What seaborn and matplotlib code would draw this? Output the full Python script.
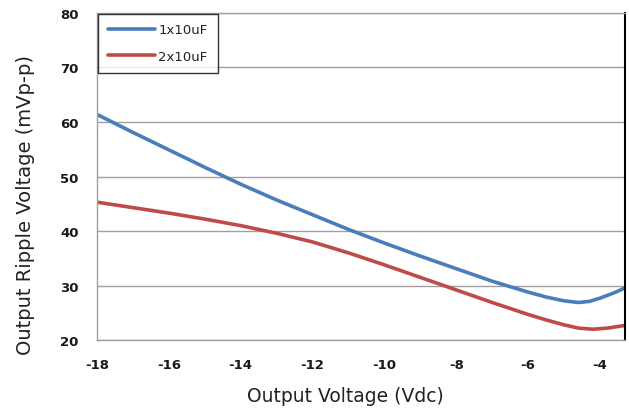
import matplotlib
matplotlib.use("Agg")
import matplotlib.pyplot as plt
import seaborn as sns
import pandas as pd

x_1x = [-18, -17, -16, -15, -14, -13, -12, -11, -10, -9, -8, -7, -6, -5.5, -5, -4.6, -4.3, -4, -3.6, -3.3]
y_1x = [61.4, 58.1, 54.9, 51.7, 48.6, 45.7, 43.0, 40.3, 37.8, 35.4, 33.1, 30.8, 28.8, 27.9, 27.2, 26.9, 27.1, 27.7, 28.7, 29.6]
x_2x = [-18, -17, -16, -15, -14, -13, -12, -11, -10, -9, -8, -7, -6, -5.5, -5, -4.6, -4.2, -3.8, -3.3]
y_2x = [45.3, 44.3, 43.3, 42.2, 41.0, 39.6, 38.0, 36.0, 33.8, 31.5, 29.2, 26.9, 24.7, 23.7, 22.8, 22.2, 22.0, 22.2, 22.7]
series_names = ["1x10uF", "2x10uF"]
x_ticks = [-18, -16, -14, -12, -10, -8, -6, -4]
y_ticks = [20, 30, 40, 50, 60, 70, 80]

df = pd.concat([
    pd.DataFrame({"x": x_1x, "y": y_1x, "s": series_names[0]}),
    pd.DataFrame({"x": x_2x, "y": y_2x, "s": series_names[1]}),
])

sns.set_style("white")
plt.rcParams["font.family"] = ["DejaVu Sans"]

fig = plt.figure(figsize=(6.29, 4.10), dpi=100)
ax = fig.add_axes([0.154, 0.168, 0.840, 0.798])

sns.lineplot(data=df, x="x", y="y", hue="s", palette=["#4a7ebb", "#be4b48"],
             linewidth=2.6, ax=ax, sort=False, estimator=None)
for ln in ax.get_lines():
    ln.set_solid_joinstyle("round")
    ln.set_solid_capstyle("round")

ax.set_xlim(-18, -3.3)
ax.set_ylim(20, 80)
ax.set_xticks(x_ticks)
ax.set_yticks(y_ticks)
ax.set_xticklabels([str(v) for v in x_ticks], fontsize=9.5, color="#1a1a1a", fontweight="semibold")
ax.set_yticklabels([str(v) for v in y_ticks], fontsize=9.5, color="#1a1a1a", fontweight="semibold")
ax.yaxis.grid(True, color="#a0a0a0", linewidth=1)
ax.set_axisbelow(True)
ax.tick_params(axis="y", direction="out", length=5, color="#a0a0a0", width=1, pad=8)
ax.tick_params(axis="x", direction="out", length=5, color="#a0a0a0", width=1, pad=8)

for side in ["left", "bottom", "top"]:
    ax.spines[side].set_color("#a0a0a0")
    ax.spines[side].set_linewidth(1)
ax.spines["right"].set_color("black")
ax.spines["right"].set_linewidth(1.5)

ax.set_xlabel("Output Voltage (Vdc)", fontsize=13.5, color="#222222")
ax.set_ylabel("Output Ripple Voltage (mVp-p)", fontsize=14, color="#222222")
ax.xaxis.set_label_coords(0.47, -0.14)
ax.yaxis.set_label_coords(-0.118, 0.415)

leg = ax.legend(loc="upper left", bbox_to_anchor=(0.003, 0.998), frameon=True,
                fancybox=False, edgecolor="black", fontsize=9.5, handlelength=3.5,
                borderpad=0.75, labelspacing=1.0, handletextpad=0.3, borderaxespad=0)
leg.get_frame().set_linewidth(1)
for t in leg.get_texts():
    t.set_color("#222222")

fig.savefig("out.png", dpi=100)
